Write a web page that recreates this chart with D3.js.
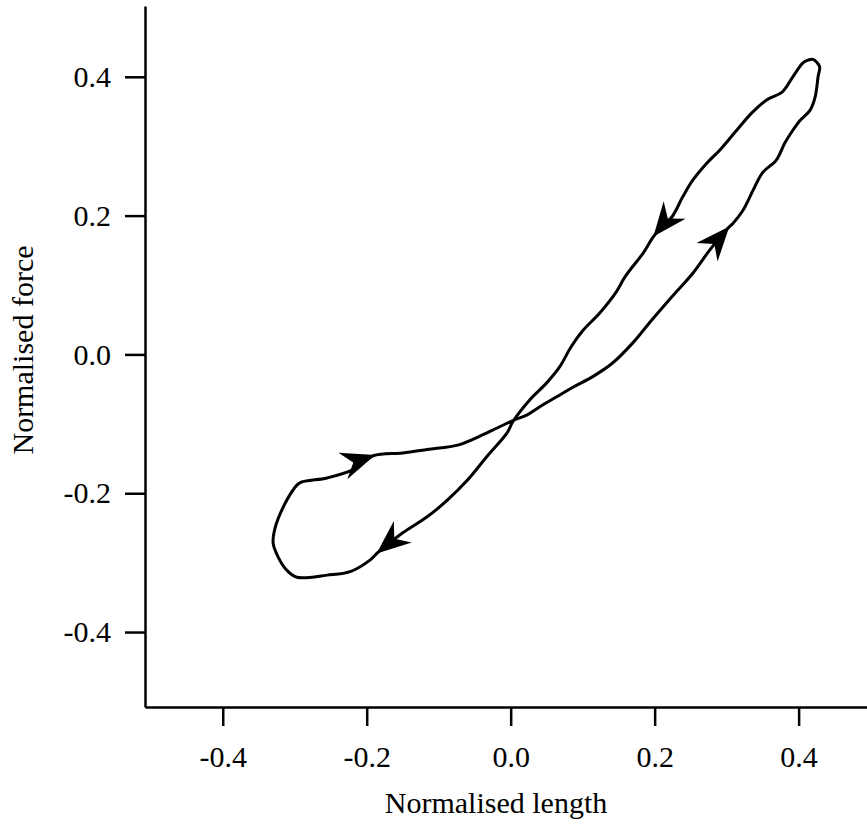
<!DOCTYPE html>
<html>
<head>
<meta charset="utf-8">
<script src="https://cdn.jsdelivr.net/npm/d3@7"></script>
<style>
  html, body { margin: 0; padding: 0; background: #fff; }
  svg { display: block; }
  text { font-family: "Liberation Serif", "DejaVu Serif", serif; fill: #000; }
</style>
</head>
<body>
<svg id="chart" width="867" height="827"></svg>
<script>
// Loop traced clockwise from the top tip: down the upper branch, around the lower loop, back up
const loopLength = [
  0.427, 0.429, 0.420, 0.413, 0.406, 0.392, 0.377, 0.356, 0.335, 0.314,
  0.291, 0.273, 0.253, 0.239, 0.224, 0.200, 0.184, 0.159, 0.146, 0.124,
  0.100, 0.084, 0.068, 0.050, 0.027, 0.003, -0.005, -0.033, -0.060, -0.088,
  -0.116, -0.150, -0.184, -0.195, -0.223, -0.255, -0.297, -0.311, -0.323, -0.330,
  -0.327, -0.316, -0.302, -0.293, -0.255, -0.219, -0.191, -0.150, -0.116, -0.071,
  -0.025, 0.006, 0.023, 0.041, 0.064, 0.087, 0.114, 0.142, 0.170, 0.194,
  0.224, 0.253, 0.277, 0.302, 0.309, 0.323, 0.337, 0.350, 0.369, 0.381,
  0.392, 0.402, 0.416, 0.423
];
const loopForce = [
  0.400, 0.415, 0.425, 0.424, 0.420, 0.400, 0.378, 0.367, 0.348, 0.323,
  0.295, 0.276, 0.251, 0.227, 0.198, 0.172, 0.146, 0.112, 0.089, 0.060,
  0.034, 0.011, -0.018, -0.041, -0.065, -0.097, -0.113, -0.147, -0.181, -0.210,
  -0.234, -0.257, -0.285, -0.296, -0.313, -0.318, -0.321, -0.311, -0.292, -0.272,
  -0.249, -0.220, -0.195, -0.185, -0.178, -0.166, -0.146, -0.142, -0.137, -0.130,
  -0.109, -0.094, -0.087, -0.075, -0.061, -0.047, -0.032, -0.012, 0.017, 0.047,
  0.083, 0.117, 0.151, 0.182, 0.189, 0.208, 0.237, 0.262, 0.280, 0.305,
  0.323, 0.337, 0.352, 0.371
];
// indices of the loop points that carry an arrowhead (tip), pointing along the traversal
const arrowAt = [15, 32, 46, 63];

const xTicks = [-0.4, -0.2, 0.0, 0.2, 0.4];
const yTicks = [-0.4, -0.2, 0.0, 0.2, 0.4];

const svg = d3.select('#chart');
const x = d3.scaleLinear().domain([-0.508, 0.495]).range([145, 867]);
const y = d3.scaleLinear().domain([-0.508, 0.502]).range([707, 6]);
const fmt = d => d.toFixed(1);

const xAxis = svg.append('g')
  .attr('transform', 'translate(0,707)')
  .call(d3.axisBottom(x).tickValues(xTicks).tickFormat(fmt).tickSize(19).tickSizeOuter(0).tickPadding(20));
const yAxis = svg.append('g')
  .attr('transform', 'translate(145,0)')
  .call(d3.axisLeft(y).tickValues(yTicks).tickFormat(fmt).tickSize(20).tickSizeOuter(0).tickPadding(14));

[xAxis, yAxis].forEach(a => {
  a.select('.domain').attr('stroke', '#000').attr('stroke-width', 2.5);
  a.selectAll('.tick line').attr('stroke', '#000').attr('stroke-width', 2.5);
  a.selectAll('.tick text')
    .style('font-family', '"Liberation Serif", serif')
    .style('font-size', '30px')
    .attr('fill', '#000');
});

const pts = loopLength.map((v, i) => [x(v), y(loopForce[i])]);

svg.append('path')
  .datum(pts)
  .attr('fill', 'none')
  .attr('stroke', '#000')
  .attr('stroke-width', 3)
  .attr('stroke-linejoin', 'round')
  .attr('d', d3.line().curve(d3.curveCatmullRomClosed.alpha(0.5)));

// arrowheads, oriented by the neighbouring points on the loop
arrowAt.forEach(i => {
  const p = pts[i], a = pts[i - 1], b = pts[i + 1];
  const ang = Math.atan2(b[1] - a[1], b[0] - a[0]) * 180 / Math.PI;
  svg.append('path')
    .attr('d', 'M2,0 L-32,-14 L-21,0 L-32,14 Z')
    .attr('fill', '#000')
    .attr('transform', `translate(${p[0]},${p[1]}) rotate(${ang})`);
});

svg.append('text')
  .attr('x', 496).attr('y', 813)
  .attr('text-anchor', 'middle')
  .style('font-size', '30px')
  .text('Normalised length');

svg.append('text')
  .attr('transform', 'translate(33,350) rotate(-90)')
  .attr('text-anchor', 'middle')
  .style('font-size', '30px')
  .text('Normalised force');
</script>
</body>
</html>
